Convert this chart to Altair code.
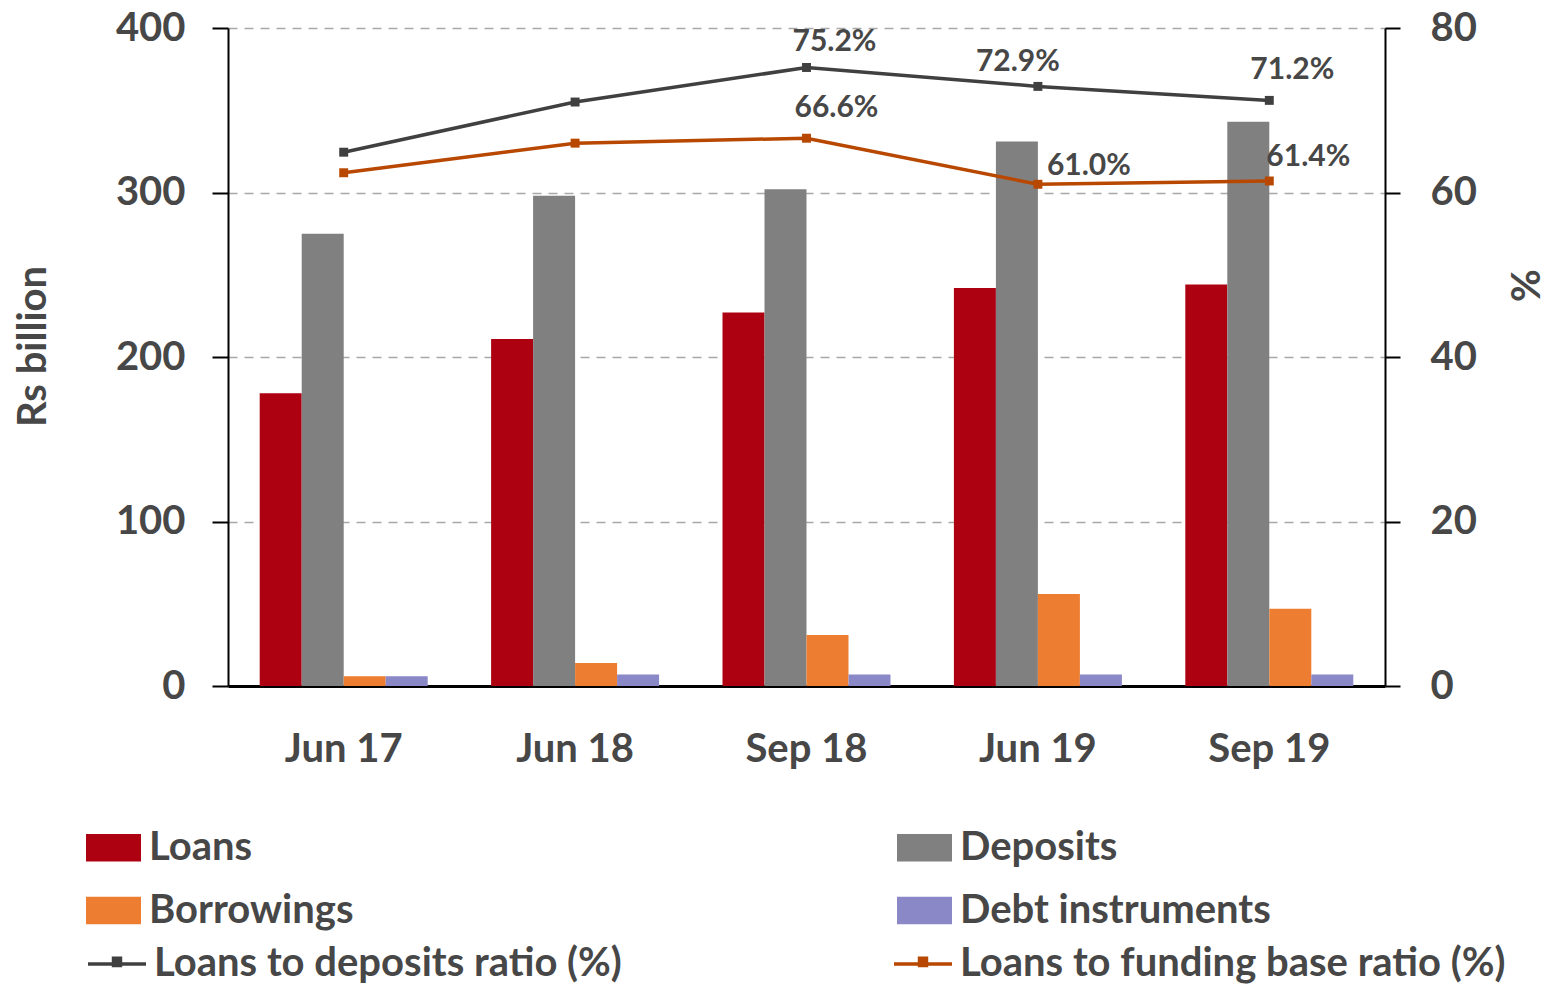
import altair as alt
import pandas as pd

categories = ["Jun 17", "Jun 18", "Sep 18", "Jun 19", "Sep 19"]
loans = [178, 211, 227, 242, 244]
deposits = [275, 298, 302, 331, 343]
borrowings = [6, 14, 31, 56, 47]
debt_instruments = [6, 7, 7, 7, 7]
ltd_ratio = [64.9, 71.0, 75.2, 72.9, 71.2]
ltfb_ratio = [62.4, 66.0, 66.6, 61.0, 61.4]

bar_series = ["Loans", "Deposits", "Borrowings", "Debt instruments"]
bar_colors = ["#AD0011", "#808080", "#ED7D31", "#8B88C8"]
line_series = ["Loans to deposits ratio (%)", "Loans to funding base ratio (%)"]
line_colors = ["#404040", "#B84700"]

FONT = "Lato"
TXT = "#474747"

bar_rows = []
for s, vals in zip(bar_series, [loans, deposits, borrowings, debt_instruments]):
    for c, v in zip(categories, vals):
        bar_rows.append({"category": c, "series": s, "value": v})
bars_df = pd.DataFrame(bar_rows)

line_rows = []
for s, vals in zip(line_series, [ltd_ratio, ltfb_ratio]):
    for c, v in zip(categories, vals):
        line_rows.append({"category": c, "series": s, "value": v,
                          "label": f"{v:.1f}%"})
lines_df = pd.DataFrame(line_rows)

x_scale = alt.Scale(paddingInner=0.274, paddingOuter=0.137)

x_axis = alt.Axis(
    title=None, domainColor="black", domainWidth=3, ticks=False,
    labelFont=FONT, labelFontSize=40, labelFontWeight="bold", labelColor=TXT,
    labelPadding=43, labelBaseline="top", labelAngle=0,
)


def x_enc():
    return alt.X("category:N", sort=categories, scale=x_scale, axis=x_axis)


bars = alt.Chart(bars_df).mark_bar().encode(
    x=x_enc(),
    xOffset=alt.XOffset("series:N", sort=bar_series,
                        scale=alt.Scale(paddingInner=0, paddingOuter=0)),
    y=alt.Y("value:Q", scale=alt.Scale(domain=[0, 400], nice=False),
            axis=alt.Axis(
                title="Rs billion", values=[0, 100, 200, 300, 400],
                domainColor="black", domainWidth=2,
                tickColor="black", tickWidth=2, tickSize=16,
                labelFont=FONT, labelFontSize=40, labelFontWeight="bold",
                labelColor=TXT, labelPadding=27,
                grid=True, gridColor="#A8A8A8", gridDash=[9, 7], gridWidth=1.5,
                titleFont=FONT, titleFontSize=40, titleFontWeight="bold",
                titleColor=TXT, titleX=-195, titleY=318, titleAngle=270,
                titleAlign="center", titleBaseline="middle",
            )),
    fill=alt.Fill("series:N", sort=bar_series,
                  scale=alt.Scale(domain=bar_series, range=bar_colors),
                  legend=alt.Legend(
                      title=None, orient="none", legendX=-142, legendY=792,
                      columns=2, direction="horizontal",
                      columnPadding=543, rowPadding=15,
                      symbolType="M-1,-0.5H1V0.5H-1Z", symbolSize=3025,
                      symbolStrokeWidth=0, labelOffset=8, padding=0,
                      labelFont=FONT, labelFontSize=40, labelFontWeight="bold",
                      labelColor=TXT, labelLimit=800,
                  )),
)

right_axis = alt.Axis(
    orient="right", title="%", values=[0, 20, 40, 60, 80],
    domainColor="black", domainWidth=2,
    tickColor="black", tickWidth=2, tickSize=15, grid=False,
    labelFont=FONT, labelFontSize=40, labelFontWeight="bold",
    labelColor=TXT, labelPadding=30,
    titleFont=FONT, titleFontSize=40, titleFontWeight="bold",
    titleColor=TXT, titleX=142, titleY=257, titleAngle=270,
    titleAlign="center", titleBaseline="middle",
)
y_scale_right = alt.Scale(domain=[0, 80], nice=False)


def y_right():
    return alt.Y("value:Q", scale=y_scale_right, axis=right_axis)


lines = alt.Chart(lines_df).mark_line(strokeWidth=3.5).encode(
    x=x_enc(),
    y=y_right(),
    stroke=alt.Stroke("series:N", sort=line_series,
                      scale=alt.Scale(domain=line_series, range=line_colors),
                      legend=alt.Legend(
                          title=None, orient="none", legendX=-142, legendY=905,
                          columns=2, direction="horizontal",
                          columnPadding=265, rowPadding=15,
                          symbolType="M-1,0H1M-0.12,-0.2H0.12V0.05H-0.12Z",
                          symbolSize=3364, symbolStrokeWidth=3.5,
                          labelOffset=6, padding=0,
                          labelFont=FONT, labelFontSize=40, labelFontWeight="bold",
                          labelColor=TXT, labelLimit=800,
                      )),
)

points = alt.Chart(lines_df).mark_square(size=80, opacity=1).encode(
    x=x_enc(),
    y=y_right(),
    color=alt.Color("series:N", scale=alt.Scale(domain=line_series, range=line_colors),
                    legend=None),
)

# label offsets (style only): (series index, category) -> (dx, dy)
offsets = {
    (0, "Sep 18"): (28, -25),
    (0, "Jun 19"): (-20, -24),
    (0, "Sep 19"): (23, -30),
    (1, "Sep 18"): (30, -30),
    (1, "Jun 19"): (51, -18),
    (1, "Sep 19"): (39, -24),
}

texts = []
for (si, cat), (dx, dy) in offsets.items():
    t = alt.Chart(lines_df).transform_filter(
        (alt.datum.series == line_series[si]) & (alt.datum.category == cat)
    ).mark_text(
        font=FONT, fontSize=30, fontWeight="bold", color=TXT,
        align="center", baseline="middle", dx=dx, dy=dy,
    ).encode(
        x=x_enc(),
        y=y_right(),
        text="label:N",
    )
    texts.append(t)

right_layer = alt.layer(lines, points, *texts)

chart = alt.layer(bars, right_layer).resolve_scale(
    y="independent"
).properties(
    width=1157, height=658,
    autosize=alt.AutoSizeParams(type="none"),
    padding={"left": 220, "top": 20, "right": 170, "bottom": 299},
    background="white",
).configure_view(stroke=None)

chart.save("out.html", embed_options={"renderer": "svg", "actions": False})
